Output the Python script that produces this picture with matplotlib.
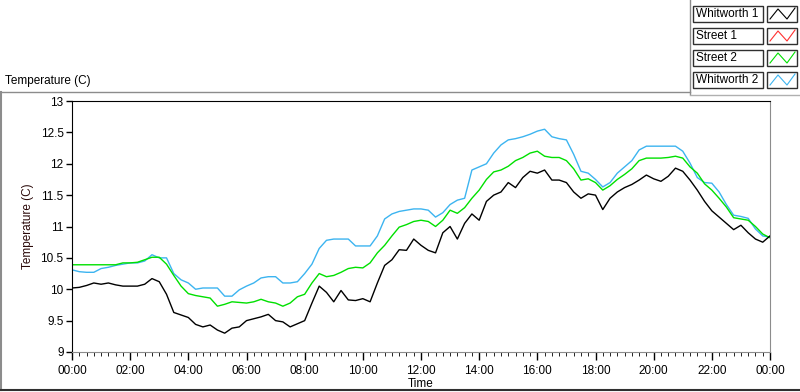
import matplotlib
matplotlib.use('Agg')
import matplotlib.pyplot as plt
from matplotlib.patches import Rectangle
from matplotlib.lines import Line2D
from matplotlib.ticker import MultipleLocator, FuncFormatter

plt.rcParams['font.family'] = ['Liberation Sans', 'DejaVu Sans']

# time in hours, every 15 minutes from 00:00 to 00:00 next day
hours = [i * 0.25 for i in range(97)]

whitworth1 = [
    10.02, 10.03, 10.06, 10.10, 10.08, 10.10, 10.07, 10.05, 10.05, 10.05,
    10.08, 10.17, 10.12, 9.92, 9.63, 9.59, 9.55, 9.44, 9.40, 9.43,
    9.35, 9.30, 9.38, 9.40, 9.50, 9.53, 9.56, 9.60, 9.50, 9.48,
    9.40, 9.45, 9.50, 9.78, 10.05, 9.95, 9.80, 9.98, 9.83, 9.82,
    9.85, 9.80, 10.10, 10.38, 10.47, 10.63, 10.62, 10.80, 10.70, 10.62,
    10.58, 10.90, 11.00, 10.80, 11.05, 11.20, 11.10, 11.40, 11.50, 11.55,
    11.70, 11.62, 11.78, 11.88, 11.85, 11.90, 11.74, 11.74, 11.70, 11.55,
    11.45, 11.52, 11.50, 11.27, 11.45, 11.55, 11.62, 11.67, 11.74, 11.82,
    11.76, 11.72, 11.80, 11.93, 11.88, 11.74, 11.58, 11.40, 11.25, 11.15,
    11.05, 10.95, 11.02, 10.90, 10.80, 10.75, 10.85]

street2 = [
    10.39, 10.39, 10.39, 10.39, 10.39, 10.39, 10.39, 10.42, 10.42, 10.43,
    10.47, 10.51, 10.51, 10.40, 10.22, 10.05, 9.93, 9.90, 9.88, 9.86,
    9.73, 9.76, 9.80, 9.79, 9.78, 9.80, 9.84, 9.80, 9.78, 9.73,
    9.78, 9.88, 9.92, 10.10, 10.25, 10.20, 10.22, 10.27, 10.33, 10.35,
    10.34, 10.42, 10.58, 10.70, 10.85, 10.99, 11.03, 11.08, 11.10, 11.08,
    11.00, 11.10, 11.26, 11.21, 11.30, 11.45, 11.58, 11.75, 11.87, 11.90,
    11.96, 12.05, 12.10, 12.17, 12.20, 12.12, 12.10, 12.10, 12.05, 11.92,
    11.74, 11.76, 11.70, 11.58, 11.65, 11.75, 11.83, 11.92, 12.05, 12.09,
    12.09, 12.09, 12.10, 12.12, 12.09, 11.95, 11.85, 11.68, 11.58, 11.45,
    11.31, 11.14, 11.12, 11.10, 11.00, 10.88, 10.82]

whitworth2 = [
    10.31, 10.28, 10.27, 10.27, 10.33, 10.35, 10.38, 10.40, 10.42, 10.42,
    10.45, 10.55, 10.50, 10.50, 10.25, 10.15, 10.10, 10.00, 10.02, 10.02,
    10.02, 9.89, 9.89, 9.99, 10.05, 10.10, 10.18, 10.20, 10.20, 10.10,
    10.10, 10.12, 10.25, 10.40, 10.65, 10.78, 10.80, 10.80, 10.80, 10.69,
    10.69, 10.69, 10.85, 11.12, 11.20, 11.24, 11.26, 11.28, 11.28, 11.26,
    11.15, 11.22, 11.35, 11.42, 11.45, 11.90, 11.95, 12.00, 12.17, 12.30,
    12.38, 12.40, 12.43, 12.47, 12.52, 12.55, 12.43, 12.40, 12.38, 12.15,
    11.88, 11.85, 11.75, 11.63, 11.70, 11.85, 11.95, 12.05, 12.22, 12.28,
    12.28, 12.28, 12.28, 12.28, 12.20, 12.01, 11.78, 11.70, 11.69, 11.55,
    11.35, 11.18, 11.16, 11.13, 10.96, 10.85, 10.83]

names = ['Whitworth 1', 'Street 1', 'Street 2', 'Whitworth 2']
colors = ['#000000', '#ff3030', '#00e000', '#3cb4f0']

fig = plt.figure(figsize=(8, 3.92), dpi=100)
W, H = 800.0, 392.0


def fline(xs, ys, **kw):
    # line in pixel coords of the figure (y measured from top)
    fig.lines.append(Line2D([v / W for v in xs], [1 - v / H for v in ys],
                            transform=fig.transFigure, **kw))


# outer panel frame
fline([1, 1], [92, 390], color='#8c8c8c', lw=1.5)
fline([1, 690], [92, 92], color='#8c8c8c', lw=1)
fline([690, 690], [0, 94], color='#8c8c8c', lw=1)
fline([690, 800], [95, 95], color='#b0b0b0', lw=1)
fline([1, 799], [390, 390], color='#303030', lw=1.5)
fig.text(5 / W, 1 - 81 / H, 'Temperature (C)', fontsize=8.5, va='center', ha='left')

ax = fig.add_axes([72 / W, 1 - 352 / H, (770 - 72) / W, (352 - 101) / H])
ax.plot(hours, whitworth2, color=colors[3], lw=1)
ax.plot(hours, street2, color=colors[2], lw=1)
ax.plot(hours, whitworth1, color=colors[0], lw=1)

ax.set_xlim(0, 24)
ax.set_ylim(9, 13)
ax.xaxis.set_major_locator(MultipleLocator(2))
ax.xaxis.set_minor_locator(MultipleLocator(0.25))
ax.xaxis.set_major_formatter(FuncFormatter(lambda v, p: '%02d:00' % (int(round(v)) % 24)))
ax.yaxis.set_major_locator(MultipleLocator(0.5))
ax.yaxis.set_major_formatter(FuncFormatter(lambda v, p: ('%g' % v)))
ax.tick_params(axis='both', labelsize=8.5, direction='out', width=1)
ax.tick_params(axis='x', which='major', length=6, pad=3)
ax.tick_params(axis='x', which='minor', length=3)
ax.tick_params(axis='y', length=4, pad=2)
ax.spines['left'].set_color('black')
ax.spines['top'].set_color('black')
ax.spines['right'].set_color('#8c8c8c')
ax.spines['bottom'].set_color('#8c8c8c')
ax.set_xlabel('Time', fontsize=8.5, labelpad=1)
ax.set_ylabel('Temperature (C)', fontsize=8.5, color='#2a0808', labelpad=5)

# legend panel (top right)
row_y = [14, 36, 58, 80]
for name, c, yc in zip(names, colors, row_y):
    fig.patches.append(Rectangle((693 / W, 1 - (yc + 8) / H), 70 / W, 16 / H,
                                 transform=fig.transFigure, facecolor='white',
                                 edgecolor='#303030', linewidth=1))
    fig.text(696 / W, 1 - yc / H, name, fontsize=8.5, va='center', ha='left')
    fig.patches.append(Rectangle((767 / W, 1 - (yc + 8) / H), 30 / W, 16 / H,
                                 transform=fig.transFigure, facecolor='white',
                                 edgecolor='#303030', linewidth=1))
    fline([770, 778, 787, 795], [yc + 5, yc - 5, yc + 5, yc - 6], color=c, lw=0.8)

plt.savefig('out.png', dpi=100)
